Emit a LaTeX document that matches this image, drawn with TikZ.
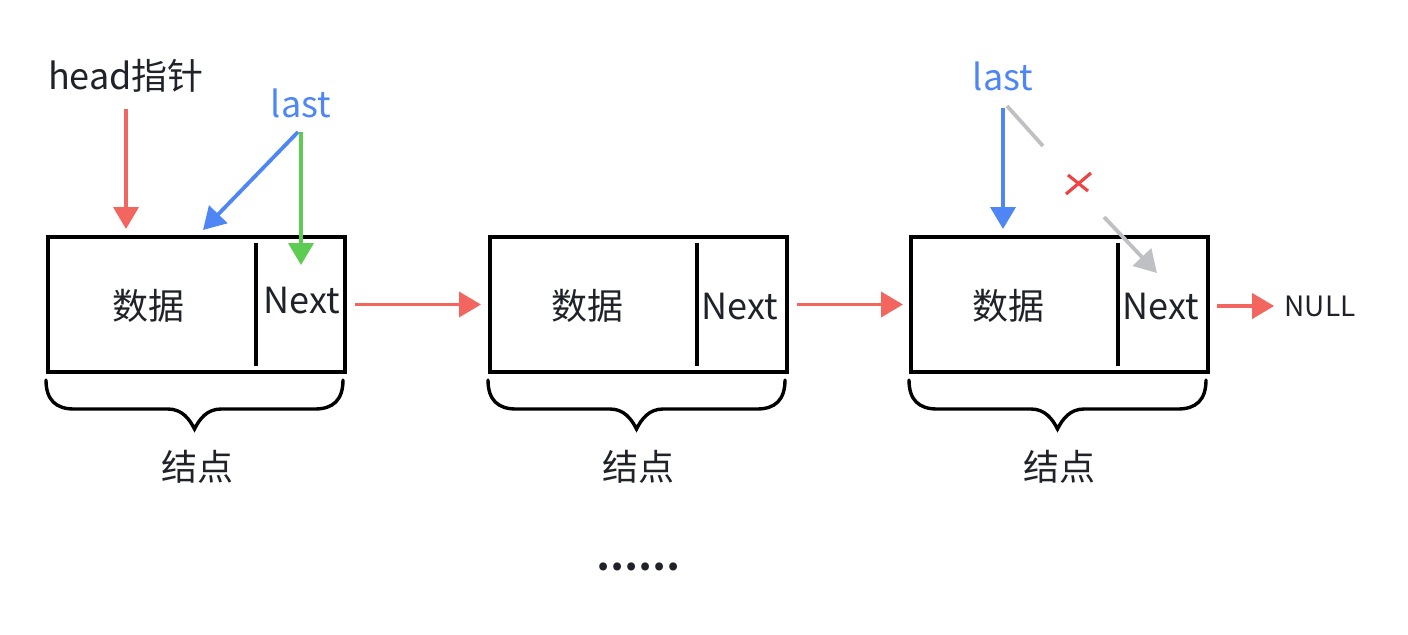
\documentclass[tikz,border=0pt]{standalone}
\usepackage{fontspec}
\setmainfont{Noto Sans CJK SC}
\usetikzlibrary{arrows.meta}
\definecolor{txt}{HTML}{1F2329}
\definecolor{hred}{HTML}{F2665F}
\definecolor{hblue}{HTML}{4E86F5}
\definecolor{hgreen}{HTML}{5ECB52}
\definecolor{hgray}{HTML}{BEC0C4}
\definecolor{xred}{HTML}{EE4444}
\tikzset{
  cell/.style={draw=black, line width=2pt, minimum width=148.5pt, minimum height=67.5pt, inner sep=0pt},
  lbl/.style={text=txt, font=\fontsize{18pt}{20pt}\selectfont, inner sep=0pt},
  ptr/.style={line width=1.9pt, -{Triangle[length=11pt,width=12.5pt]}},
  brace/.style={line width=1.7pt, line cap=round},
}
\begin{document}
\begin{tikzpicture}[x=0.5pt, y=-0.5pt]
      \useasboundingbox (0,0) rectangle (1408,634);
      % nodes of the list
      \node[cell] (box1) at (196.5,304.5) {};
      \node[cell] (box2) at (638.5,304.5) {};
      \node[cell] (box3) at (1059.5,304.5) {};
      \draw[line width=1.7pt] (256,243) -- (256,366);
      \draw[line width=1.7pt] (697,243) -- (697,366);
      \draw[line width=1.7pt] (1118,243) -- (1118,366);
      \node[lbl] (data1) at (148,306) {数据};
      \node[lbl] (data2) at (587,306) {数据};
      \node[lbl] (data3) at (1008,306) {数据};
      \node[lbl] (next1) at (302,301) {Next};
      \node[lbl] (next2) at (740,307) {Next};
      \node[lbl] (next3) at (1161,307) {Next};
      \node[lbl, font=\fontsize{14pt}{16pt}\selectfont] (null) at (1320,306) {NULL};
      % braces
      \foreach \b/\k in {box1/197, box2/638, box3/1059} {
        \draw[brace] ([yshift=-3pt]\b.south west)
          .. controls +(0,20) and +(-18,0) .. ++(28,29) -- ++(94,0)
          .. controls +(14,0) and +(-5,-10) .. ++(26.5,20)
          .. controls +(5,-10) and +(-14,0) .. ++(26.5,-20) -- ++(94,0)
          .. controls +(18,0) and +(0,20) .. ++(28,-29);
        \node[lbl] (knot-\b) at (\k,467) {结点};
      }
      \node[lbl, font=\fontsize{18.5pt}{20pt}\bfseries] (dots) at (638,567) {……};
      % pointers
      \node[lbl] (head) at (126,76) {head指针};
      \node[lbl, text=hblue] (last1) at (301,103) {last};
      \node[lbl, text=hblue] (last3) at (1003,76) {last};
      \coordinate (h1) at (126,229);
      \coordinate (b1) at (203,230);
      \coordinate (g1) at (301,265);
      \coordinate (b3) at (1003,229);
      \coordinate (c3) at (1043,146);
      \coordinate (d3) at (1104,217);
      \coordinate (e3) at (1157,273);
      \draw[ptr, hred] ([yshift=-8pt]head.south) -- (h1);
      \draw[ptr, hblue] ([xshift=-1.5pt,yshift=-7pt]last1.south) -- (b1);
      \draw[ptr, hgreen] ([yshift=-7pt]last1.south) -- (g1);
      \draw[ptr, hblue] ([yshift=-8.5pt]last3.south) -- (b3);
      \draw[line width=1.9pt, hgray] ([xshift=2pt,yshift=-7.5pt]last3.south) -- (c3);
      \draw[ptr, hgray] (d3) -- (e3);
      \draw[line width=1.6pt, xred] (1066,194) -- (1091,173);
      \draw[line width=1.6pt, xred] (1068,175) -- (1088,191);
      % links
      \draw[ptr, hred, shorten <=4pt, shorten >=3.5pt] (box1.east) -- (box2.west);
      \draw[ptr, hred, shorten <=4pt, shorten >=3pt] (box2.east) -- (box3.west);
      \draw[ptr, hred, shorten <=3.5pt, shorten >=5pt] ([yshift=-0.75pt]box3.east) -- ([yshift=-0.75pt]box3.east -| null.west);
    \end{tikzpicture}
\end{document}
